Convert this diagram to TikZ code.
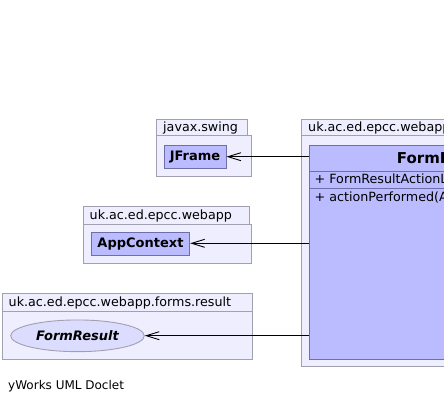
\documentclass[tikz,border=0pt]{standalone}
\usepackage{fontspec}
\setmainfont{DejaVu Sans}
\usetikzlibrary{arrows.meta,shapes.geometric}
\definecolor{pkgfill}{RGB}{238,238,255}
\definecolor{pkgline}{RGB}{160,160,176}
\definecolor{clsfill}{RGB}{187,187,255}
\definecolor{clsline}{RGB}{110,110,170}
\definecolor{ifcfill}{RGB}{220,220,255}
\tikzset{
  pkg/.style={draw=pkgline, fill=pkgfill, line width=0.9pt},
  pkglabel/.style={anchor=west, inner sep=0pt, font=\fontsize{12.7}{12.7}\selectfont},
  member/.style={anchor=west, inner sep=0pt, font=\fontsize{12.7}{12.7}\selectfont},
  cls/.style={draw=clsline, fill=clsfill, line width=0.9pt, inner sep=0pt, font=\fontsize{13}{13}\selectfont\bfseries},
  dep/.style={draw=black, line width=0.9pt, -{Straight Barb[length=13pt,width=8pt,line width=0.9pt]}},
}
\begin{document}
\begin{tikzpicture}[x=1pt,y=-1pt]
\useasboundingbox (0,0) rectangle (444,405);
\fill[white] (0,0) rectangle (444,405);
\begin{scope}
\clip (0,0) rectangle (444,405);
% javax.swing
\draw[pkg] (156,119.3) rectangle (247.7,135.7);
\draw[pkg] (156,135.7) rectangle (251.7,176.7);
\node[pkglabel] (lswing) at (163,128) {javax.swing};
\node[cls, minimum width=62pt, minimum height=23.3pt] (jframe) at (195,156.7) {JFrame};
% uk.ac.ed.epcc.webapp (left)
\draw[pkg] (83.3,206) rectangle (249.3,224);
\draw[pkg] (83.3,224) rectangle (251.7,263.3);
\node[pkglabel] (lweb) at (89.5,215.5) {uk.ac.ed.epcc.webapp};
\node[cls, minimum width=98.4pt, minimum height=23.4pt] (appctx) at (140.5,244) {AppContext};
% forms.result
\draw[pkg] (2.3,293.7) rectangle (252.3,311.7);
\draw[pkg] (2.3,311.7) rectangle (252.3,359);
\node[pkglabel] (lres) at (8.5,303.2) {uk.ac.ed.epcc.webapp.forms.result};
\node[ellipse, draw=pkgline, fill=ifcfill, line width=0.9pt, minimum width=133.6pt, minimum height=31.7pt, inner sep=0pt, font=\fontsize{13}{13}\selectfont\bfseries\itshape] (formres) at (77.5,335.8) {FormResult};
% right package
\draw[pkg] (301,119.3) rectangle (460,135.7);
\draw[pkg] (301,135.7) rectangle (470,366.7);
\node[pkglabel] (lright) at (308,128) {uk.ac.ed.epcc.webapp};
% class
\draw[draw=clsline, fill=clsfill, line width=0.9pt] (309.3,145) rectangle (470,359.3);
\draw[draw=clsline, line width=0.9pt] (309.3,171) -- (470,171);
\draw[draw=clsline, line width=0.9pt] (309.3,188.3) -- (470,188.3);
\node[anchor=west, inner sep=0pt, font=\fontsize{15}{15}\selectfont\bfseries] (title) at (396.7,158) {FormResultActionListener};
\node[member] (attr) at (314.5,180) {+ FormResultActionListener()};
\node[member] (meth) at (314.5,197.3) {+ actionPerformed(ActionEvent)};
\coordinate (s1) at (309.3,156.7);
\coordinate (s2) at (309.3,243.3);
\coordinate (s3) at (309.3,335.7);
\draw[dep] (s1) -- (jframe.east |- s1);
\draw[dep] (s2) -- (appctx.east |- s2);
\draw[dep] (s3) -- (formres.east |- s3);
\end{scope}
\node[anchor=west, inner sep=0pt, font=\fontsize{12}{12}\selectfont] (credit) at (8,386) {yWorks UML Doclet};
\end{tikzpicture}
\end{document}
